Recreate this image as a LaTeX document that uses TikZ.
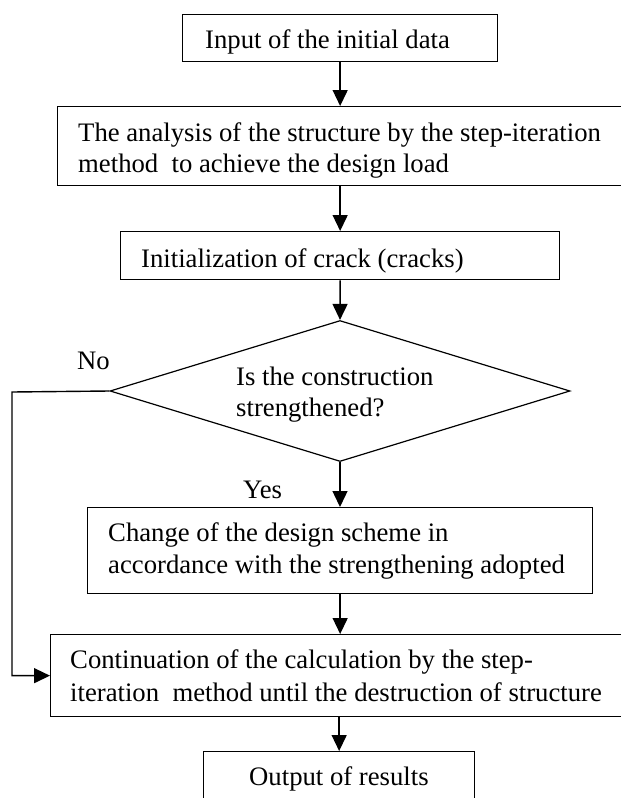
\documentclass[tikz,border=0pt]{standalone}
\usepackage{fontspec}
\setmainfont{Liberation Serif}
\usetikzlibrary{shapes.geometric,arrows.meta}
\begin{document}
\begin{tikzpicture}[x=1pt,y=-1pt,
  box/.style={draw, line width=1.3pt, rectangle, inner sep=0pt, anchor=north west},
  lbl/.style={anchor=base west, inner sep=0pt, font=\fontsize{26.7pt}{32pt}\selectfont},
  arr/.style={line width=1.4pt, -{Triangle[width=15pt,length=16pt]}}]
\useasboundingbox (0,0) rectangle (621,798);
\clip (0,0) rectangle (621,798);
% boxes
\node[box, minimum width=315pt, minimum height=47pt] (b1) at (182,14) {};
\node[box, minimum width=584pt, minimum height=79pt] (b2) at (57,106) {};
\node[box, minimum width=439pt, minimum height=48pt] (b3) at (120,231) {};
\node[draw, diamond, line width=1.2pt, inner sep=0pt, minimum width=460pt, minimum height=141pt] (d) at (340,391) {};
\node[box, minimum width=505pt, minimum height=86pt] (b4) at (87,507) {};
\node[box, minimum width=590pt, minimum height=82pt] (b5) at (50,634) {};
\node[box, minimum width=271pt, minimum height=70pt] (b6) at (203,751) {};
% texts
\node[lbl] (t1) at (205,48) {Input of the initial data};
\node[lbl] (t2a) at (78,141) {The analysis of the structure by the step-iteration};
\node[lbl] (t2b) at (78,172) {method\ \ to achieve the design load};
\node[lbl] (t3) at (141,267) {Initialization of crack (cracks)};
\node[lbl] (td1) at (236,385) {Is the construction};
\node[lbl] (td2) at (236,416) {strengthened?};
\node[lbl] (tno) at (77,369) {No};
\node[lbl] (tyes) at (243,498) {Yes};
\node[lbl] (t4a) at (108,541) {Change of the design scheme in};
\node[lbl] (t4b) at (108,573) {accordance with the strengthening adopted};
\node[lbl] (t5a) at (70,668) {Continuation of the calculation by the step-};
\node[lbl] (t5b) at (70,701) {iteration\ \ method until the destruction of structure};
\node[lbl] (t6) at (249,785) {Output of results};
% connectors
\draw[arr] (b1.south) -- (b1.south |- b2.north);
\draw[arr] (b3.north |- b2.south) -- (b3.north);
\draw[arr] (b3.south) -- (d.north);
\draw[arr] (d.south) -- (d.south |- b4.north);
\draw[arr] (b4.south) -- (b4.south |- b5.north);
\draw[arr] (b6.north |- b5.south) -- (b6.north);
\coordinate (nc) at (12,392);
\draw[arr] (d.west) -- (nc) |- (b5.west);
\end{tikzpicture}
\end{document}
